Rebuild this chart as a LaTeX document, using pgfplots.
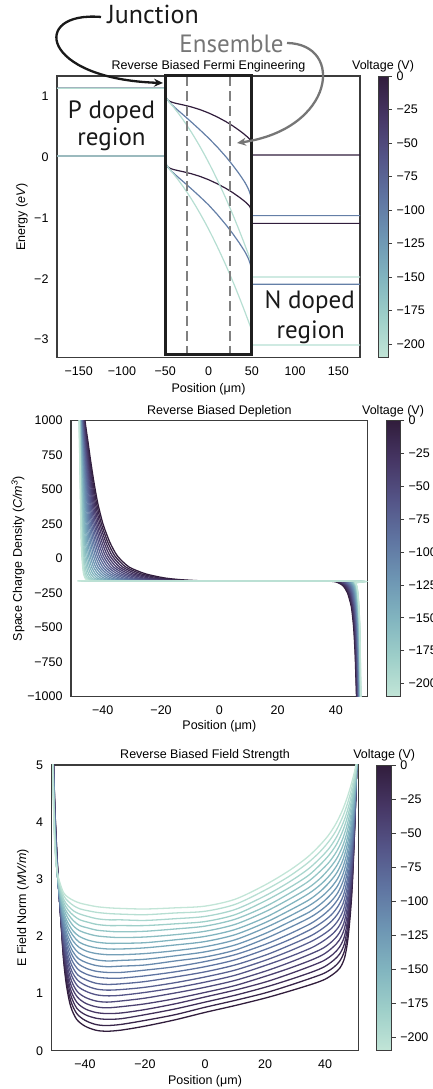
\documentclass[border=0pt]{standalone}
\usepackage{fontspec}
\setmainfont{Liberation Sans}
\newfontfamily\annfont{PT Sans}
\usepackage{pgfplots}
\pgfplotsset{compat=1.18}
\usepackage{pgfplotstable}
\usetikzlibrary{arrows.meta}

\pgfplotsset{
  colormap={chrev}{rgb255=(49,29,60) rgb255=(70,54,100) rgb255=(84,84,135) rgb255=(95,116,161) rgb255=(109,149,179) rgb255=(129,180,191) rgb255=(158,207,201) rgb255=(194,229,215)},
  colormap={ch}{rgb255=(194,229,215) rgb255=(158,207,201) rgb255=(129,180,191) rgb255=(109,149,179) rgb255=(95,116,161) rgb255=(84,84,135) rgb255=(70,54,100) rgb255=(49,29,60)},
}
\definecolor{cdark}{RGB}{49,29,60}
\definecolor{cblue}{RGB}{100,127,167}
\definecolor{cteal}{RGB}{182,222,210}
\definecolor{framec}{RGB}{60,60,60}
\definecolor{ensgray}{RGB}{118,118,118}

\pgfplotstableread{
rho X0 X1 X2 X3 X4 X5 X6 X7 X8 X9 X10 X11 X12 X13 X14 X15 X16 X17 X18 X19 X20 X21
1100 -46.40 -46.53 -46.65 -46.77 -46.89 -47.00 -47.11 -47.22 -47.32 -47.42 -47.52 -47.61 -47.70 -47.78 -47.85 -47.93 -47.99 -48.05 -48.10 -48.15 -48.18 -48.20
1000 -46.10 -46.24 -46.38 -46.51 -46.64 -46.77 -46.89 -47.01 -47.13 -47.24 -47.34 -47.44 -47.54 -47.63 -47.72 -47.80 -47.87 -47.93 -47.99 -48.04 -48.08 -48.10
850 -45.10 -45.30 -45.50 -45.70 -45.89 -46.07 -46.25 -46.42 -46.59 -46.75 -46.90 -47.05 -47.19 -47.32 -47.44 -47.56 -47.66 -47.76 -47.84 -47.92 -47.97 -48.00
700 -44.10 -44.37 -44.63 -44.88 -45.13 -45.37 -45.60 -45.82 -46.04 -46.25 -46.45 -46.64 -46.82 -46.99 -47.15 -47.30 -47.44 -47.57 -47.68 -47.77 -47.84 -47.88
550 -43.00 -43.34 -43.66 -43.98 -44.29 -44.60 -44.89 -45.17 -45.44 -45.70 -45.96 -46.20 -46.42 -46.64 -46.84 -47.03 -47.21 -47.36 -47.50 -47.62 -47.71 -47.76
400 -41.70 -42.12 -42.53 -42.93 -43.32 -43.69 -44.06 -44.41 -44.75 -45.08 -45.39 -45.70 -45.98 -46.25 -46.51 -46.74 -46.96 -47.16 -47.33 -47.48 -47.59 -47.65
250 -39.90 -40.44 -40.96 -41.48 -41.98 -42.46 -42.93 -43.38 -43.82 -44.24 -44.64 -45.03 -45.40 -45.74 -46.07 -46.37 -46.65 -46.91 -47.13 -47.32 -47.46 -47.54
120 -37.60 -38.29 -38.96 -39.62 -40.26 -40.88 -41.48 -42.06 -42.62 -43.16 -43.68 -44.17 -44.64 -45.09 -45.51 -45.90 -46.25 -46.58 -46.86 -47.10 -47.29 -47.39
20 -35.00 -35.86 -36.70 -37.52 -38.31 -39.08 -39.83 -40.55 -41.25 -41.92 -42.56 -43.18 -43.76 -44.32 -44.84 -45.32 -45.77 -46.17 -46.52 -46.82 -47.05 -47.18
-60 -31.00 -32.12 -33.21 -34.28 -35.32 -36.32 -37.30 -38.24 -39.15 -40.03 -40.87 -41.67 -42.43 -43.15 -43.83 -44.46 -45.04 -45.57 -46.03 -46.42 -46.73 -46.89
-110 -25.30 -26.80 -28.27 -29.70 -31.09 -32.44 -33.74 -35.01 -36.23 -37.40 -38.53 -39.60 -40.62 -41.59 -42.50 -43.35 -44.13 -44.83 -45.45 -45.97 -46.38 -46.60
-140 -18.70 -20.63 -22.52 -24.36 -26.14 -27.88 -29.56 -31.18 -32.75 -34.26 -35.71 -37.09 -38.40 -39.65 -40.82 -41.91 -42.91 -43.81 -44.61 -45.29 -45.81 -46.09
-152 -13.30 -15.57 -17.78 -19.94 -22.04 -24.07 -26.05 -27.96 -29.80 -31.57 -33.27 -34.89 -36.44 -37.90 -39.27 -40.55 -41.72 -42.79 -43.72 -44.51 -45.13 -45.46
-158 -8.50 -11.07 -13.58 -16.04 -18.41 -20.73 -22.97 -25.13 -27.22 -29.24 -31.16 -33.01 -34.76 -36.42 -37.97 -39.43 -40.76 -41.97 -43.03 -43.93 -44.62 -45.00
-162 -2.00 -4.96 -7.85 -10.67 -13.41 -16.07 -18.65 -21.14 -23.54 -25.86 -28.08 -30.20 -32.22 -34.13 -35.92 -37.59 -39.12 -40.51 -41.73 -42.77 -43.56 -44.00
-162 36.00 36.67 37.32 37.96 38.58 39.18 39.77 40.33 40.87 41.40 41.90 42.38 42.83 43.27 43.67 44.05 44.40 44.71 44.99 45.22 45.40 45.50
-175 40.82 41.23 41.64 42.03 42.41 42.78 43.14 43.49 43.82 44.14 44.45 44.75 45.03 45.30 45.54 45.78 45.99 46.18 46.35 46.50 46.61 46.67
-200 42.60 42.92 43.24 43.55 43.85 44.14 44.42 44.70 44.96 45.21 45.46 45.69 45.91 46.12 46.32 46.50 46.67 46.82 46.95 47.07 47.15 47.20
-250 44.00 44.25 44.50 44.74 44.97 45.20 45.42 45.63 45.83 46.03 46.22 46.40 46.57 46.73 46.88 47.03 47.16 47.27 47.38 47.47 47.53 47.57
-350 45.30 45.48 45.66 45.84 46.01 46.17 46.33 46.49 46.63 46.78 46.91 47.05 47.17 47.29 47.40 47.50 47.60 47.68 47.76 47.82 47.87 47.90
-500 46.08 46.23 46.38 46.52 46.66 46.79 46.92 47.05 47.17 47.28 47.40 47.50 47.61 47.70 47.79 47.88 47.95 48.02 48.09 48.14 48.18 48.20
-700 46.60 46.72 46.85 46.96 47.08 47.19 47.30 47.40 47.50 47.60 47.69 47.78 47.87 47.95 48.02 48.09 48.16 48.21 48.27 48.31 48.34 48.36
-1000 47.05 47.16 47.26 47.36 47.46 47.55 47.64 47.73 47.82 47.90 47.98 48.06 48.13 48.20 48.26 48.32 48.38 48.43 48.47 48.51 48.53 48.55
-1100 47.20 47.30 47.40 47.49 47.58 47.67 47.76 47.84 47.92 48.00 48.07 48.14 48.21 48.27 48.33 48.39 48.44 48.48 48.52 48.56 48.59 48.60
}\Charge

\pgfplotstableread{
X0 X1 X2 X3 X4 X5 X6 X7 X8 X9 X10 X11 X12 X13 X14 X15 X16 X17 X18 X19 X20 X21 E0 E1 E2 E3 E4 E5 E6 E7 E8 E9 E10 E11 E12 E13 E14 E15 E16 E17 E18 E19 E20 E21
-50.60 -50.61 -50.63 -50.64 -50.66 -50.67 -50.69 -50.70 -50.71 -50.73 -50.74 -50.76 -50.77 -50.79 -50.80 -50.81 -50.83 -50.84 -50.86 -50.87 -50.89 -50.90 5.3 5.3 5.3 5.3 5.3 5.3 5.3 5.3 5.3 5.3 5.3 5.3 5.3 5.3 5.3 5.3 5.3 5.3 5.3 5.3 5.3 5.3
-50.35 -50.37 -50.38 -50.40 -50.42 -50.43 -50.45 -50.47 -50.48 -50.50 -50.52 -50.53 -50.55 -50.57 -50.58 -50.60 -50.62 -50.63 -50.65 -50.67 -50.68 -50.70 4.8 4.8 4.8 4.8 4.8 4.8 4.8 4.8 4.8 4.8 4.8 4.8 4.8 4.8 4.8 4.8 4.8 4.8 4.8 4.8 4.8 4.8
-50.00 -50.02 -50.04 -50.06 -50.09 -50.11 -50.13 -50.15 -50.17 -50.19 -50.21 -50.24 -50.26 -50.28 -50.30 -50.32 -50.34 -50.36 -50.39 -50.41 -50.43 -50.45 4.2 4.2 4.2 4.2 4.2 4.2 4.2 4.2 4.2 4.2 4.2 4.2 4.2 4.2 4.2 4.2 4.2 4.2 4.2 4.2 4.2 4.2
-49.50 -49.53 -49.56 -49.59 -49.61 -49.64 -49.67 -49.70 -49.73 -49.76 -49.79 -49.81 -49.84 -49.87 -49.90 -49.93 -49.96 -49.99 -50.01 -50.04 -50.07 -50.10 3.60 3.60 3.60 3.61 3.61 3.61 3.61 3.62 3.62 3.62 3.62 3.62 3.63 3.63 3.63 3.64 3.64 3.64 3.64 3.65 3.65 3.65
-48.80 -48.84 -48.88 -48.91 -48.95 -48.99 -49.03 -49.07 -49.10 -49.14 -49.18 -49.22 -49.26 -49.30 -49.33 -49.37 -49.41 -49.45 -49.49 -49.52 -49.56 -49.60 2.90 2.92 2.94 2.95 2.97 2.99 3.01 3.03 3.04 3.06 3.08 3.10 3.12 3.14 3.15 3.17 3.19 3.21 3.23 3.24 3.26 3.28
-48.00 -48.04 -48.08 -48.11 -48.15 -48.19 -48.23 -48.27 -48.30 -48.34 -48.38 -48.42 -48.46 -48.50 -48.53 -48.57 -48.61 -48.65 -48.69 -48.72 -48.76 -48.80 2.25 2.29 2.32 2.36 2.40 2.43 2.47 2.51 2.54 2.58 2.62 2.65 2.69 2.73 2.76 2.80 2.84 2.87 2.91 2.95 2.98 3.02
-47.2 -47.2 -47.2 -47.2 -47.2 -47.2 -47.2 -47.2 -47.2 -47.2 -47.2 -47.2 -47.2 -47.2 -47.2 -47.2 -47.2 -47.2 -47.2 -47.2 -47.2 -47.2 1.62 1.67 1.73 1.78 1.84 1.89 1.95 2.00 2.06 2.11 2.17 2.22 2.28 2.33 2.39 2.44 2.50 2.55 2.61 2.66 2.72 2.77
-46.20 -46.17 -46.13 -46.10 -46.07 -46.03 -46.00 -45.97 -45.93 -45.90 -45.87 -45.83 -45.80 -45.77 -45.73 -45.70 -45.67 -45.63 -45.60 -45.57 -45.53 -45.50 1.15 1.22 1.30 1.37 1.44 1.51 1.59 1.66 1.73 1.81 1.88 1.95 2.02 2.10 2.17 2.24 2.32 2.39 2.46 2.53 2.61 2.68
-44.80 -44.74 -44.68 -44.61 -44.55 -44.49 -44.43 -44.37 -44.30 -44.24 -44.18 -44.12 -44.06 -43.99 -43.93 -43.87 -43.81 -43.75 -43.69 -43.62 -43.56 -43.50 0.78 0.87 0.96 1.04 1.13 1.22 1.31 1.39 1.48 1.57 1.66 1.74 1.83 1.92 2.01 2.09 2.18 2.27 2.36 2.44 2.53 2.62
-42.80 -42.74 -42.68 -42.61 -42.55 -42.49 -42.43 -42.37 -42.30 -42.24 -42.18 -42.12 -42.06 -41.99 -41.93 -41.87 -41.81 -41.75 -41.69 -41.62 -41.56 -41.50 0.55 0.65 0.74 0.84 0.94 1.03 1.13 1.23 1.32 1.42 1.52 1.61 1.71 1.81 1.90 2.00 2.10 2.19 2.29 2.39 2.48 2.58
-40.00 -39.95 -39.90 -39.86 -39.81 -39.76 -39.71 -39.67 -39.62 -39.57 -39.52 -39.48 -39.43 -39.38 -39.33 -39.29 -39.24 -39.19 -39.14 -39.10 -39.05 -39.00 0.43 0.53 0.63 0.73 0.83 0.93 1.04 1.14 1.24 1.34 1.44 1.54 1.64 1.74 1.84 1.94 2.05 2.15 2.25 2.35 2.45 2.55
-36.50 -36.48 -36.45 -36.43 -36.40 -36.38 -36.36 -36.33 -36.31 -36.29 -36.26 -36.24 -36.21 -36.19 -36.17 -36.14 -36.12 -36.10 -36.07 -36.05 -36.02 -36.00 0.36 0.46 0.57 0.67 0.77 0.87 0.98 1.08 1.18 1.29 1.39 1.49 1.59 1.70 1.80 1.90 2.01 2.11 2.21 2.31 2.42 2.52
-33.00 -32.95 -32.90 -32.86 -32.81 -32.76 -32.71 -32.67 -32.62 -32.57 -32.52 -32.48 -32.43 -32.38 -32.33 -32.29 -32.24 -32.19 -32.14 -32.10 -32.05 -32.00 0.34 0.44 0.55 0.65 0.75 0.85 0.96 1.06 1.16 1.27 1.37 1.47 1.57 1.68 1.78 1.88 1.99 2.09 2.19 2.29 2.40 2.50
-28 -28 -28 -28 -28 -28 -28 -28 -28 -28 -28 -28 -28 -28 -28 -28 -28 -28 -28 -28 -28 -28 0.36 0.46 0.56 0.66 0.77 0.87 0.97 1.07 1.17 1.27 1.37 1.48 1.58 1.68 1.78 1.88 1.98 2.08 2.19 2.29 2.39 2.49
-20 -20 -20 -20 -20 -20 -20 -20 -20 -20 -20 -20 -20 -20 -20 -20 -20 -20 -20 -20 -20 -20 0.43 0.53 0.63 0.72 0.82 0.92 1.02 1.11 1.21 1.31 1.41 1.50 1.60 1.70 1.80 1.89 1.99 2.09 2.19 2.28 2.38 2.48
-10 -10 -10 -10 -10 -10 -10 -10 -10 -10 -10 -10 -10 -10 -10 -10 -10 -10 -10 -10 -10 -10 0.54 0.63 0.73 0.82 0.91 1.01 1.10 1.19 1.29 1.38 1.47 1.57 1.66 1.75 1.85 1.94 2.03 2.13 2.22 2.31 2.41 2.50
0 0 0 0 0 0 0 0 0 0 0 0 0 0 0 0 0 0 0 0 0 0 0.67 0.76 0.85 0.94 1.02 1.11 1.20 1.29 1.38 1.47 1.56 1.64 1.73 1.82 1.91 2.00 2.09 2.18 2.26 2.35 2.44 2.53
10 10 10 10 10 10 10 10 10 10 10 10 10 10 10 10 10 10 10 10 10 10 0.79 0.88 0.97 1.06 1.14 1.23 1.32 1.41 1.50 1.59 1.68 1.76 1.85 1.94 2.03 2.12 2.21 2.30 2.38 2.47 2.56 2.65
20 20 20 20 20 20 20 20 20 20 20 20 20 20 20 20 20 20 20 20 20 20 0.92 1.01 1.11 1.20 1.30 1.39 1.49 1.58 1.67 1.77 1.86 1.96 2.05 2.15 2.24 2.33 2.43 2.52 2.62 2.71 2.81 2.90
28 28 28 28 28 28 28 28 28 28 28 28 28 28 28 28 28 28 28 28 28 28 1.04 1.14 1.24 1.34 1.44 1.54 1.64 1.74 1.84 1.94 2.04 2.15 2.25 2.35 2.45 2.55 2.65 2.75 2.85 2.95 3.05 3.15
36.00 35.90 35.81 35.71 35.62 35.52 35.43 35.33 35.24 35.14 35.05 34.95 34.86 34.76 34.67 34.57 34.48 34.38 34.29 34.19 34.10 34.00 1.17 1.28 1.38 1.49 1.59 1.70 1.80 1.91 2.01 2.12 2.22 2.33 2.43 2.54 2.64 2.75 2.85 2.96 3.06 3.17 3.28 3.38
40.00 39.90 39.81 39.71 39.62 39.52 39.43 39.33 39.24 39.14 39.05 38.95 38.86 38.76 38.67 38.57 38.48 38.38 38.29 38.19 38.10 38.00 1.25 1.36 1.47 1.58 1.69 1.80 1.92 2.03 2.14 2.25 2.36 2.47 2.58 2.69 2.80 2.91 3.02 3.14 3.25 3.36 3.47 3.58
43.00 42.90 42.81 42.71 42.62 42.52 42.43 42.33 42.24 42.14 42.05 41.95 41.86 41.76 41.67 41.57 41.48 41.38 41.29 41.19 41.10 41.00 1.35 1.46 1.58 1.69 1.81 1.92 2.04 2.15 2.27 2.38 2.50 2.61 2.73 2.84 2.96 3.07 3.19 3.30 3.42 3.53 3.65 3.76
45.00 44.93 44.86 44.79 44.71 44.64 44.57 44.50 44.43 44.36 44.29 44.21 44.14 44.07 44.00 43.93 43.86 43.79 43.71 43.64 43.57 43.50 1.45 1.57 1.69 1.81 1.93 2.05 2.17 2.29 2.41 2.53 2.65 2.76 2.88 3.00 3.12 3.24 3.36 3.48 3.60 3.72 3.84 3.96
46.50 46.45 46.40 46.36 46.31 46.26 46.21 46.17 46.12 46.07 46.02 45.98 45.93 45.88 45.83 45.79 45.74 45.69 45.64 45.60 45.55 45.50 1.62 1.74 1.86 1.98 2.11 2.23 2.35 2.47 2.59 2.71 2.83 2.96 3.08 3.20 3.32 3.44 3.56 3.68 3.81 3.93 4.05 4.17
47.50 47.48 47.45 47.43 47.40 47.38 47.36 47.33 47.31 47.29 47.26 47.24 47.21 47.19 47.17 47.14 47.12 47.10 47.07 47.05 47.02 47.00 1.90 2.02 2.14 2.25 2.37 2.49 2.61 2.72 2.84 2.96 3.08 3.19 3.31 3.43 3.55 3.66 3.78 3.90 4.02 4.13 4.25 4.37
48.3 48.3 48.3 48.3 48.3 48.3 48.3 48.3 48.3 48.3 48.3 48.3 48.3 48.3 48.3 48.3 48.3 48.3 48.3 48.3 48.3 48.3 2.30 2.41 2.52 2.63 2.73 2.84 2.95 3.06 3.17 3.28 3.39 3.49 3.60 3.71 3.82 3.93 4.04 4.15 4.25 4.36 4.47 4.58
49.00 49.01 49.03 49.04 49.06 49.07 49.09 49.10 49.11 49.13 49.14 49.16 49.17 49.19 49.20 49.21 49.23 49.24 49.26 49.27 49.29 49.30 2.80 2.89 2.99 3.08 3.18 3.27 3.36 3.46 3.55 3.64 3.74 3.83 3.93 4.02 4.11 4.21 4.30 4.40 4.49 4.58 4.68 4.77
49.60 49.62 49.64 49.66 49.68 49.70 49.71 49.73 49.75 49.77 49.79 49.81 49.83 49.85 49.87 49.89 49.90 49.92 49.94 49.96 49.98 50.00 3.50 3.57 3.64 3.70 3.77 3.84 3.91 3.97 4.04 4.11 4.18 4.24 4.31 4.38 4.45 4.51 4.58 4.65 4.72 4.78 4.85 4.92
50.10 50.11 50.13 50.14 50.16 50.17 50.19 50.20 50.21 50.23 50.24 50.26 50.27 50.29 50.30 50.31 50.33 50.34 50.36 50.37 50.39 50.40 4.20 4.24 4.28 4.32 4.36 4.40 4.44 4.48 4.52 4.56 4.60 4.64 4.67 4.71 4.75 4.79 4.83 4.87 4.91 4.95 4.99 5.03
50.60 50.61 50.62 50.63 50.64 50.65 50.66 50.67 50.68 50.69 50.70 50.70 50.71 50.72 50.73 50.74 50.75 50.76 50.77 50.78 50.79 50.80 5.00 5.01 5.01 5.02 5.03 5.04 5.04 5.05 5.06 5.06 5.07 5.08 5.09 5.09 5.10 5.11 5.11 5.12 5.13 5.14 5.14 5.15
50.80 50.81 50.83 50.84 50.86 50.87 50.89 50.90 50.91 50.93 50.94 50.96 50.97 50.99 51.00 51.01 51.03 51.04 51.06 51.07 51.09 51.10 5.3 5.3 5.3 5.3 5.3 5.3 5.3 5.3 5.3 5.3 5.3 5.3 5.3 5.3 5.3 5.3 5.3 5.3 5.3 5.3 5.3 5.3
}\Efield

\pgfplotsset{
  base/.style={
    scale only axis, anchor=south west,
    font=\fontsize{12.5}{15}\selectfont,
    axis line style={draw=framec, line width=1.1pt},
    major tick length=0pt,
    yticklabel shift=5pt, xticklabel shift=6pt,
    title style={anchor=base, at={(0.5,1)}, yshift=0pt},
    colormap name=ch, colorbar, point meta min=-210, point meta max=0,
    no markers,
  },
  cbbase/.style={
    at={(parent axis.north east)}, anchor=north west,
    scale only axis,
    font=\fontsize{12.5}{15}\selectfont,
    ytick={0,-25,-50,-75,-100,-125,-150,-175,-200},
    yticklabels={0,−25,−50,−75,−100,−125,−150,−175,−200},
    ytick pos=right, yticklabel pos=right,
    tick align=outside, major tick length=4pt,
    yticklabel shift=1pt, xticklabel shift=0pt,
    tick style={draw=framec, line width=0.8pt},
    axis line style={draw=framec, line width=0.9pt},
    title={Voltage (V)},
    title style={anchor=base, at={(0.5,1)}, yshift=0pt},
  },
}

\begin{document}
\begin{tikzpicture}

% ---------------- Panel 1 ----------------
\begin{axis}[base,
  at={(57pt,731.3pt)}, width=303pt, height=281.7pt,
  xmin=-175, xmax=175, ymin=-3.30, ymax=1.34,
  xtick={-150,-100,-50,0,50,100,150}, xticklabels={−150,−100,−50,0,50,100,150},
  ytick={-3,-2,-1,0,1}, yticklabels={−3,−2,−1,0,1},
  title={Reverse Biased Fermi Engineering},
  xlabel={Position (μm)}, ylabel={Energy (\textit{eV})},
  xlabel style={at={(axis description cs:0.5,-0.111)}, anchor=center},
  ylabel style={at={(axis description cs:-0.1155,0.5)}, anchor=center},
  clip=false,
  colorbar style={cbbase, width=10pt, xshift=9.5pt},
]
\addplot[cdark, line width=1.2pt] coordinates {(-175,1.138) (-50,1.138) (-48.8,0.98) (-48,0.961) (-47.2,0.947) (-46.2,0.935) (-44.8,0.923) (-42.8,0.911) (-40,0.898) (-36.5,0.886) (-33,0.875) (-28,0.859) (-20,0.831) (-10,0.787) (0,0.732) (10,0.666) (20,0.589) (28,0.519) (36,0.439) (40,0.395) (43,0.360) (45,0.335) (46.5,0.314) (47.5,0.298) (48.3,0.283) (49,0.267) (49.6,0.250) (50.6,0.04) (175,0.04)};
\addplot[cdark, line width=1.2pt] coordinates {(-175,0.022) (-50,0.022) (-48.8,-0.12) (-48,-0.139) (-47.2,-0.153) (-46.2,-0.165) (-44.8,-0.177) (-42.8,-0.189) (-40,-0.202) (-36.5,-0.214) (-33,-0.225) (-28,-0.241) (-20,-0.269) (-10,-0.313) (0,-0.368) (10,-0.434) (20,-0.511) (28,-0.581) (36,-0.661) (40,-0.705) (43,-0.740) (45,-0.767) (46.5,-0.789) (47.5,-0.807) (48.3,-0.83) (49,-0.86) (49.6,-0.89) (50.6,-1.088) (175,-1.088)};
\addplot[cblue, line width=1.2pt] coordinates {(-175,1.138) (-50,1.138) (-48.8,0.98) (-48.38,0.970) (-47.2,0.944) (-45.87,0.920) (-44.18,0.893) (-42.18,0.864) (-39.52,0.829) (-36.26,0.787) (-32.52,0.741) (-28,0.685) (-20,0.584) (-10,0.454) (0,0.318) (10,0.172) (20,0.012) (28,-0.129) (35.05,-0.264) (39.05,-0.347) (42.05,-0.413) (44.29,-0.470) (46.02,-0.520) (47.26,-0.565) (48.3,-0.61) (49.14,-0.66) (49.6,-0.70) (50.6,-0.96) (175,-0.96)};
\addplot[cblue, line width=1.2pt] coordinates {(-175,0.022) (-50,0.022) (-48.8,-0.12) (-48.38,-0.130) (-47.2,-0.156) (-45.87,-0.180) (-44.18,-0.207) (-42.18,-0.236) (-39.52,-0.271) (-36.26,-0.313) (-32.52,-0.359) (-28,-0.415) (-20,-0.516) (-10,-0.646) (0,-0.782) (10,-0.938) (20,-1.108) (28,-1.257) (35.05,-1.399) (39.05,-1.487) (42.05,-1.555) (44.29,-1.615) (46.02,-1.666) (47.26,-1.713) (48.3,-1.759) (49.14,-1.81) (49.6,-1.85) (50.6,-2.09) (175,-2.09)};
\addplot[cteal, line width=1.2pt] coordinates {(-175,1.138) (-50,1.138) (-48.8,0.98) (-45,0.906) (-40,0.820) (-35,0.729) (-30,0.632) (-25,0.528) (-20,0.419) (-15,0.303) (-10,0.181) (-5,0.054) (0,-0.08) (5,-0.220) (10,-0.367) (15,-0.518) (20,-0.675) (25,-0.840) (30,-1.009) (35,-1.186) (40,-1.368) (45,-1.556) (49.6,-1.735) (50.6,-1.97) (175,-1.97)};
\addplot[cteal, line width=1.2pt] coordinates {(-175,0.022) (-50,0.022) (-48.8,-0.12) (-45,-0.194) (-40,-0.28) (-35,-0.371) (-30,-0.468) (-25,-0.572) (-20,-0.681) (-15,-0.797) (-10,-0.919) (-5,-1.046) (0,-1.18) (5,-1.32) (10,-1.467) (15,-1.618) (20,-1.775) (25,-1.94) (30,-2.109) (35,-2.286) (40,-2.468) (45,-2.656) (49.6,-2.835) (50.6,-3.09) (175,-3.09)};
\draw[gray, line width=2.6pt, dash pattern=on 10pt off 5pt] (axis cs:-25,1.34) -- (axis cs:-25,-3.25);
\draw[gray, line width=2.6pt, dash pattern=on 10pt off 5pt] (axis cs:25,1.34) -- (axis cs:25,-3.25);
\draw[black!88, line width=3pt] (axis cs:-50,-3.25) rectangle (axis cs:50,1.34);
\end{axis}

% ---------------- Panel 2 ----------------
\begin{axis}[base,
  at={(71pt,392.3pt)}, width=296.7pt, height=276pt,
  xmin=-50.9, xmax=50.9, ymin=-1000, ymax=1000,
  xtick={-40,-20,0,20,40}, xticklabels={−40,−20,0,20,40},
  ytick={-1000,-750,-500,-250,0,250,500,750,1000},
  yticklabels={−1000,−750,−500,−250,0,250,500,750,1000},
  title={Reverse Biased Depletion},
  xlabel={Position (μm)}, ylabel={Space Charge Density (\textit{C/m}\textsuperscript{\textit{3}})},
  xlabel style={at={(axis description cs:0.5,-0.106)}, anchor=center},
  ylabel style={at={(axis description cs:-0.1786,0.5)}, anchor=center},
  cycle list={[samples of colormap=22 of chrev]},
  every axis plot/.append style={line width=1.3pt, smooth, tension=0.4},
  colorbar style={cbbase, width=14pt, xshift=9.8pt},
]
\pgfplotsinvokeforeach{0,...,21}{\addplot table[x=X#1, y=rho]{\Charge};}
\end{axis}

% ---------------- Panel 3 ----------------
\begin{axis}[base,
  at={(51.7pt,38.3pt)}, width=306.6pt, height=285.7pt,
  xmin=-51.1, xmax=51.1, ymin=0, ymax=5,
  xtick={-40,-20,0,20,40}, xticklabels={−40,−20,0,20,40},
  ytick={0,1,2,3,4,5}, yticklabels={0,1,2,3,4,5},
  title={Reverse Biased Field Strength},
  xlabel={Position (μm)}, ylabel={E Field Norm (\textit{MV/m})},
  xlabel style={at={(axis description cs:0.5,-0.1085)}, anchor=center},
  ylabel style={at={(axis description cs:-0.0936,0.5)}, anchor=center},
  cycle list={[samples of colormap=22 of chrev]},
  every axis plot/.append style={line width=1.3pt, smooth, tension=0.5},
  colorbar style={cbbase, width=15pt, xshift=9.9pt},
]
\pgfplotsinvokeforeach{0,...,21}{\addplot table[x=X#1, y=E#1]{\Efield};}
\end{axis}

% ---------------- Annotations ----------------
\node[font=\annfont\fontsize{26}{30}\selectfont, anchor=base, text=black!90] at (153pt,1065.8pt) {Junction};
\node[font=\annfont\fontsize{25}{30}\selectfont, anchor=base, text=ensgray] at (231.5pt,1036.5pt) {Ensemble};
\draw[line width=2.3pt, black!90, -{Stealth[length=9pt,width=8pt]}] (101pt,1072pt) .. controls (30pt,1078pt) and (40pt,1010pt) .. (163pt,1006pt);
\draw[line width=2.3pt, ensgray, -{Stealth[length=9pt,width=8pt]}] (287pt,1046pt) .. controls (345pt,1045pt) and (335pt,960pt) .. (237pt,946pt);
\node[font=\annfont\fontsize{25}{30}\selectfont, anchor=base, text=black!90] at (111.5pt,970.5pt) {P doped};
\node[font=\annfont\fontsize{25}{30}\selectfont, anchor=base, text=black!90] at (111.5pt,943pt) {region};
\node[font=\annfont\fontsize{25}{30}\selectfont, anchor=base, text=black!90] at (309.7pt,780.8pt) {N doped};
\node[font=\annfont\fontsize{25}{30}\selectfont, anchor=base, text=black!90] at (310.8pt,750.5pt) {region};

\pgfresetboundingbox
\path[use as bounding box] (0,0) rectangle (433pt,1089pt);
\end{tikzpicture}
\end{document}
